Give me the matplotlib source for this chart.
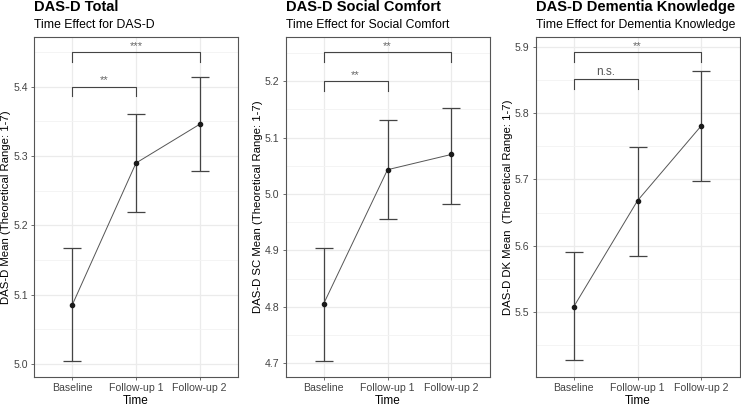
import numpy as np
import matplotlib
matplotlib.use('agg')
import matplotlib.pyplot as plt
from matplotlib.ticker import MultipleLocator

plt.rcParams['font.family'] = ['Liberation Sans', 'DejaVu Sans']

times = ['Baseline', 'Follow-up 1', 'Follow-up 2']

total_mean = [5.085, 5.290, 5.346]
total_lo = [5.004, 5.220, 5.278]
total_hi = [5.167, 5.361, 5.414]

sc_mean = [4.806, 5.043, 5.070]
sc_lo = [4.705, 4.955, 4.983]
sc_hi = [4.905, 5.131, 5.153]

dk_mean = [5.508, 5.668, 5.781]
dk_lo = [5.427, 5.584, 5.698]
dk_hi = [5.590, 5.749, 5.863]

# significance brackets: (from, to, height, label)
total_sig = [(0, 1, 5.400, '**'), (0, 2, 5.450, '***')]
sc_sig = [(0, 1, 5.200, '**'), (0, 2, 5.251, '**')]
dk_sig = [(0, 1, 5.851, 'n.s.'), (0, 2, 5.892, '**')]

panels = [
    dict(title='DAS-D Total', sub='Time Effect for DAS-D',
         ylabel='DAS-D Mean (Theoretical Range: 1-7)',
         mean=total_mean, lo=total_lo, hi=total_hi, sig=total_sig,
         ylim=(4.981, 5.472), left=34),
    dict(title='DAS-D Social Comfort', sub='Time Effect for Social Comfort',
         ylabel='DAS-D SC Mean (Theoretical Range: 1-7)',
         mean=sc_mean, lo=sc_lo, hi=sc_hi, sig=sc_sig,
         ylim=(4.676, 5.278), left=285.5),
    dict(title='DAS-D Dementia Knowledge', sub='Time Effect for Dementia Knowledge',
         ylabel='DAS-D DK Mean  (Theoretical Range: 1-7)',
         mean=dk_mean, lo=dk_lo, hi=dk_hi, sig=dk_sig,
         ylim=(5.402, 5.915), left=535.5),
]

W, H = 741, 407
fig = plt.figure(figsize=(W / 100, H / 100), dpi=100)

x = np.arange(len(times))
for p in panels:
    ax = fig.add_axes([p['left'] / W, 1 - 377 / H, 204 / W, 340 / H])
    ax.set_xlim(-0.6, 2.6)
    ax.set_ylim(*p['ylim'])
    ax.yaxis.set_major_locator(MultipleLocator(0.1))
    ax.yaxis.set_minor_locator(MultipleLocator(0.05))
    ax.set_xticks(x)
    ax.set_xticklabels(times)
    ax.grid(which='major', color='#ebebeb', linewidth=0.9)
    ax.grid(which='minor', axis='y', color='#f3f3f3', linewidth=0.6)
    ax.set_axisbelow(True)
    ax.tick_params(which='major', length=2.5, width=0.6, color='#555555',
                   labelsize=7.6, labelcolor='#444444', pad=2)
    ax.tick_params(which='minor', length=0)
    for s in ax.spines.values():
        s.set_color('#555555')
        s.set_linewidth(0.8)

    m = np.array(p['mean'])
    lo = np.array(p['lo'])
    hi = np.array(p['hi'])
    ax.errorbar(x, m, yerr=[m - lo, hi - m], fmt='none', ecolor='#444444',
                elinewidth=0.9, capsize=6.8, capthick=0.9, zorder=2)
    ax.plot(x, m, color='#555555', linewidth=0.7, zorder=3)
    ax.plot(x, m, 'o', color='#1a1a1a', markersize=3, zorder=4)

    rng = p['ylim'][1] - p['ylim'][0]
    tip = 0.028 * rng
    for a, b, y, lab in p['sig']:
        ax.plot([a, a, b, b], [y - tip, y, y, y - tip], color='#444444', linewidth=0.8)
        if lab == 'n.s.':
            ax.text((a + b) / 2, y + 0.004 * rng, lab, ha='center', va='bottom',
                    fontsize=8.5, color='#555555')
        else:
            ax.text((a + b) / 2, y + 0.004 * rng, lab, ha='center', va='bottom',
                    fontsize=8, color='#666666')

    ax.set_xlabel('Time', fontsize=8.5, labelpad=1)
    ax.set_ylabel(p['ylabel'], fontsize=8.2, labelpad=1.5)

    fig.text(p['left'] / W, 1 - 7 / H, p['title'], fontsize=10.5,
             fontweight='bold', va='center', ha='left')
    fig.text(p['left'] / W, 1 - 25 / H, p['sub'], fontsize=8.8,
             va='center', ha='left')

fig.savefig('out.png', dpi=100)
